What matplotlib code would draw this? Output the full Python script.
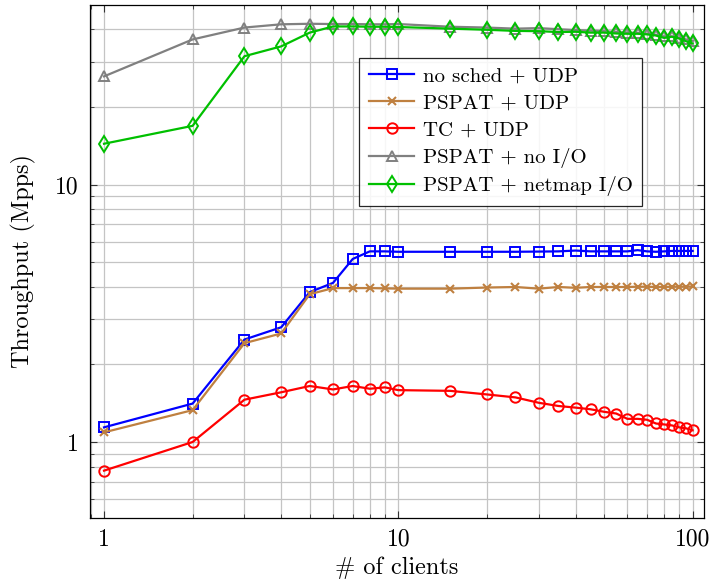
import matplotlib
matplotlib.use('Agg')
import matplotlib.pyplot as plt
from matplotlib.ticker import LogLocator, NullFormatter

plt.rcParams['font.family'] = ['cmr10', 'DejaVu Serif']
plt.rcParams['mathtext.fontset'] = 'cm'
plt.rcParams['axes.formatter.use_mathtext'] = True

# number of clients
clients = [1, 2, 3, 4, 5, 6, 7, 8, 9, 10, 15, 20, 25, 30, 35, 40, 45, 50,
           55, 60, 65, 70, 75, 80, 85, 90, 95, 100]

# throughput in Mpps
nosched_udp = [1.14, 1.41, 2.50, 2.79, 3.82, 4.15, 5.14, 5.50, 5.50, 5.48,
               5.48, 5.48, 5.48, 5.49, 5.50, 5.54, 5.50, 5.50, 5.50, 5.50,
               5.56, 5.50, 5.48, 5.50, 5.52, 5.52, 5.52, 5.52]
pspat_udp = [1.09, 1.33, 2.42, 2.64, 3.75, 3.96, 3.96, 3.96, 3.95, 3.94,
             3.94, 3.98, 4.00, 3.94, 4.00, 3.97, 4.00, 4.00, 4.00, 4.00,
             4.01, 4.01, 4.00, 4.00, 4.01, 4.01, 4.01, 4.02]
tc_udp = [0.774, 1.00, 1.46, 1.56, 1.65, 1.60, 1.65, 1.61, 1.63, 1.59,
          1.58, 1.53, 1.49, 1.42, 1.38, 1.36, 1.34, 1.31, 1.29, 1.23,
          1.23, 1.22, 1.18, 1.17, 1.16, 1.14, 1.13, 1.11]
pspat_noio = [26.3, 36.6, 40.7, 41.9, 42.1, 42.0, 42.0, 41.9, 41.9, 42.0,
              41.0, 40.7, 40.3, 40.5, 40.1, 39.8, 39.6, 39.4, 39.1, 38.9,
              38.8, 38.5, 38.1, 37.6, 37.6, 37.2, 36.6, 36.1]
pspat_netmap = [14.4, 16.9, 31.5, 34.4, 38.9, 41.1, 41.1, 41.0, 41.0, 40.9,
                40.3, 39.9, 39.5, 39.4, 39.1, 39.2, 38.9, 38.9, 38.6, 38.5,
                38.5, 38.3, 37.9, 37.1, 37.5, 36.9, 36.0, 35.3]

fig = plt.figure(figsize=(7.12, 5.87), dpi=100)
ax = fig.add_axes([0.1264, 0.118, 0.8624, 0.8735])

lw = 1.6
ax.plot(clients, nosched_udp, color='blue', lw=lw, marker='s', ms=7.5,
        mfc='none', mew=1.4, label='no sched + UDP')
ax.plot(clients, pspat_udp, color='#bf8040', lw=lw, marker='x', ms=6,
        mew=1.5, label='PSPAT + UDP')
ax.plot(clients, tc_udp, color='red', lw=lw, marker='o', ms=7.5,
        mfc='none', mew=1.4, label='TC + UDP')
ax.plot(clients, pspat_noio, color='#808080', lw=lw, marker='^', ms=7.5,
        mfc='none', mew=1.4, label='PSPAT + no I/O')
ax.plot(clients, pspat_netmap, color='#00c000', lw=lw, marker='d', ms=8,
        mfc='none', mew=1.4, label='PSPAT + netmap I/O')

ax.set_xscale('log')
ax.set_yscale('log')
ax.set_xlim(0.896, 109.3)
ax.set_ylim(0.508, 49.8)

ax.set_xticks([1, 10, 100])
ax.set_xticklabels(['1', '10', '100'])
ax.set_yticks([1, 10])
ax.set_yticklabels(['1', '10'])
ax.xaxis.set_minor_locator(LogLocator(base=10, subs=range(2, 10)))
ax.yaxis.set_minor_locator(LogLocator(base=10, subs=range(2, 10)))
ax.xaxis.set_minor_formatter(NullFormatter())
ax.yaxis.set_minor_formatter(NullFormatter())

ax.tick_params(which='both', direction='in', top=True, right=True,
               labelsize=17, color='#333333')
ax.tick_params(which='major', length=5, width=0.8, pad=8)
ax.tick_params(which='minor', length=3, width=0.6)
ax.grid(True, which='both', color='#c4c4c4', lw=0.9)
ax.set_axisbelow(True)
for sp in ax.spines.values():
    sp.set_linewidth(0.9)

ax.set_xlabel('# of clients', fontsize=17.5, labelpad=4)
ax.set_ylabel('Throughput (Mpps)', fontsize=17.5, labelpad=14)

leg = ax.legend(loc='upper right', bbox_to_anchor=(0.899, 0.897),
                borderaxespad=0, fontsize=15, frameon=True, fancybox=False,
                framealpha=0.85, edgecolor='black', handlelength=2.2,
                borderpad=0.45, labelspacing=0.4, handletextpad=0.4)
leg.get_frame().set_linewidth(0.9)

plt.savefig('out.png', dpi=100)
